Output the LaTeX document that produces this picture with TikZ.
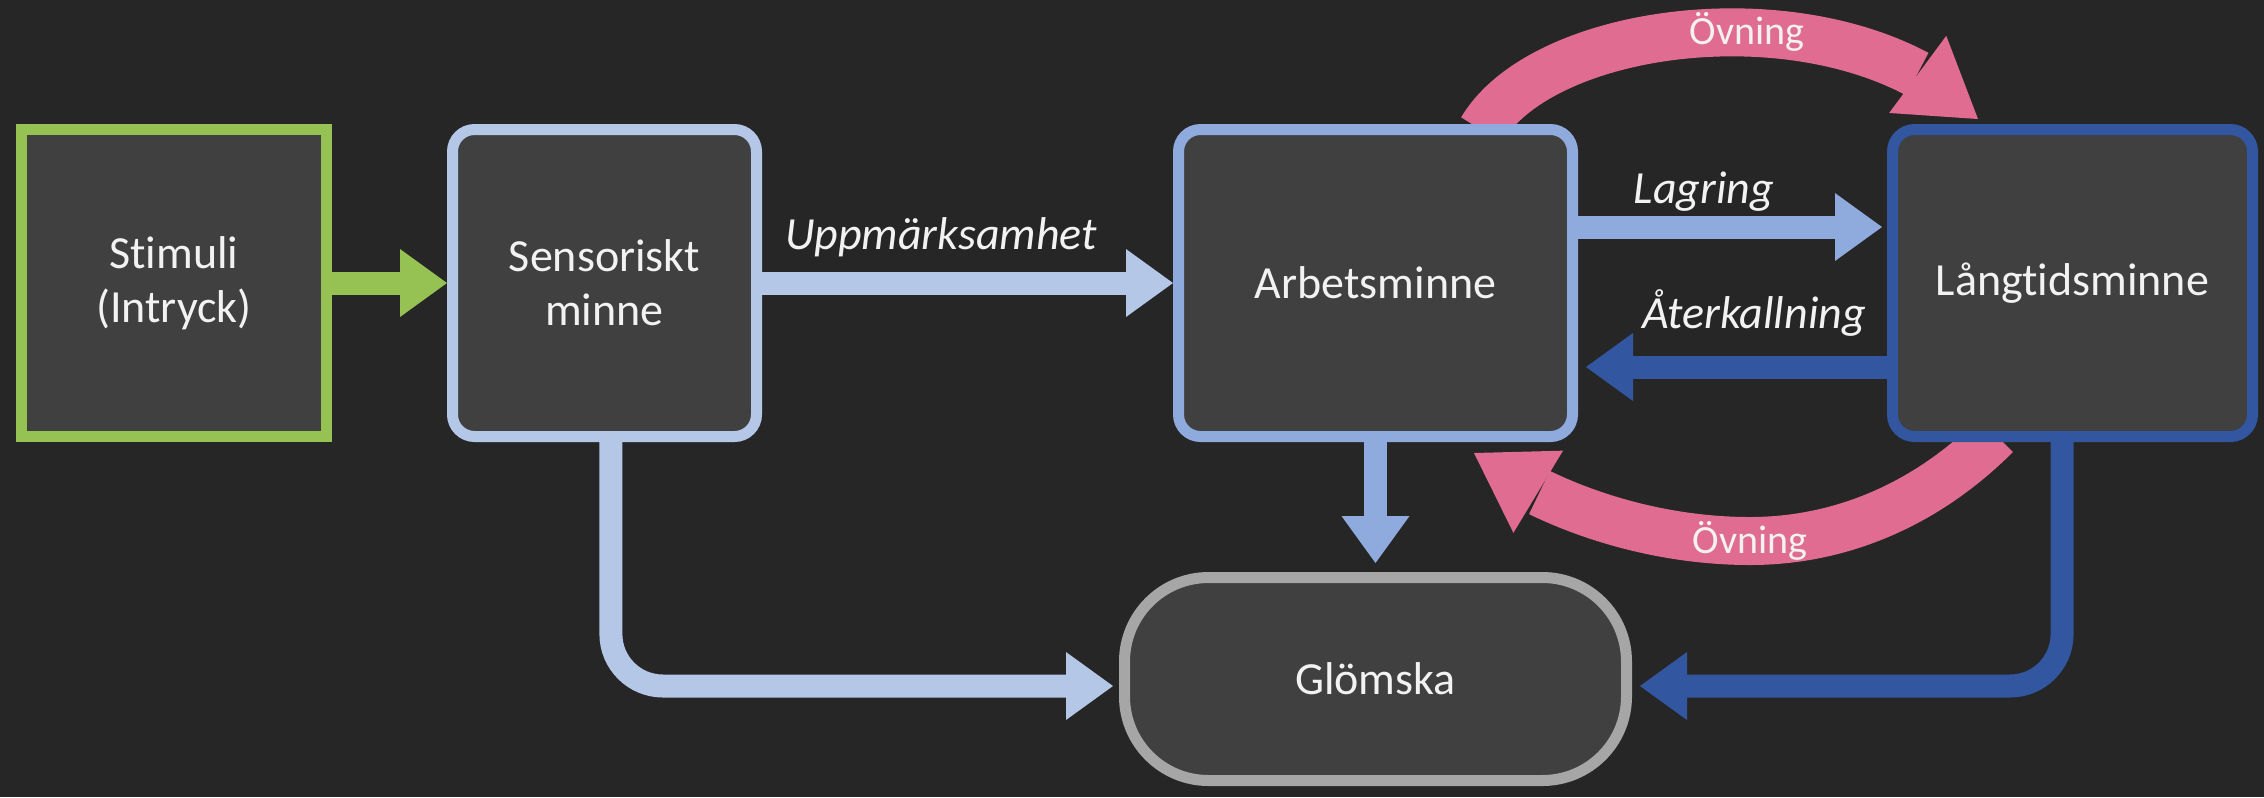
\documentclass[tikz,border=0pt]{standalone}
\usepackage{fontspec}
\setmainfont{Carlito}[RawFeature={-liga}]
\usetikzlibrary{arrows.meta,bending,calc}
\definecolor{bgc}{RGB}{38,38,38}
\definecolor{boxc}{RGB}{64,64,64}
\definecolor{grn}{RGB}{150,194,84}
\definecolor{lblue}{RGB}{180,199,231}
\definecolor{mblue}{RGB}{143,170,220}
\definecolor{dblue}{RGB}{50,86,160}
\definecolor{pnk}{RGB}{224,108,146}
\definecolor{gry}{RGB}{166,166,166}
\definecolor{txt}{RGB}{242,242,242}
\pgfdeclarelayer{backdrop}
\pgfdeclarelayer{bg}
\pgfsetlayers{backdrop,bg,main}
\begin{document}
\begin{tikzpicture}[x=0.25pt,y=-0.25pt,
  box/.style={draw, line width=2.75pt, fill=boxc, inner sep=0pt, text=txt, align=center,
    font=\fontsize{11.5}{13.5}\selectfont, minimum height=76.75pt, rounded corners=5.5pt},
  flow/.style={line width=5.75pt, -{Triangle[width=17pt,length=11.75pt,line width=0pt]}},
  lbl/.style={text=txt, font=\fontsize{11.5}{14}\selectfont\itshape},
  ovn/.style={line width=12pt, -{Triangle[width=24pt,length=18.75pt,line width=0pt,flex]}},
  olbl/.style={text=txt, font=\fontsize{10}{12}\selectfont}
]
\path[use as bounding box] (0,0) rectangle (2264,797);
\begin{pgfonlayer}{backdrop}
\fill[bgc] (0,0) rectangle (2264,797);
\end{pgfonlayer}

\node[box, draw=grn, rounded corners=0pt, minimum width=76.25pt] (stim) at (174,283) {Stimuli\\(Intryck)};
\node[box, draw=lblue, minimum width=76pt] (sens) at (604.5,283) {Sensoriskt\\minne};
\node[box, draw=mblue, minimum width=98.5pt] (arb) at (1375.5,283) {Arbetsminne};
\node[box, draw=dblue, minimum width=90pt] (lang) at (2072.5,283) {Långtidsminne};
\node[box, draw=gry, minimum width=125.5pt, minimum height=50.75pt, rounded corners=21pt] (glom) at (1375.5,679) {Glömska};

\draw[flow, grn] (stim) -- (sens);
\draw[flow, lblue] (sens) -- (arb);
\draw[flow, mblue, shorten >=1.25pt] ([yshift=14pt]arb.east) -- ([yshift=14pt]lang.west);
\draw[flow, dblue, shorten >=2pt] ([yshift=-21pt]lang.west) -- ([yshift=-21pt]arb.east);
\draw[flow, mblue, shorten >=2.25pt] (arb) -- (glom);
\draw[flow, lblue, rounded corners=13pt, shorten >=1.5pt] ([xshift=1.6pt]sens.south) |- ([yshift=-1.75pt]glom.west);
\draw[flow, dblue, rounded corners=13pt, shorten >=2pt] ([xshift=-2.6pt]lang.south) |- ([yshift=-1.75pt]glom.east);

\begin{pgfonlayer}{bg}
\draw[ovn, pnk] ($(arb.north)+(106,6)$) .. controls +(66,-112) and +(-128,-132) .. ($(lang.north west)+(91,-5)$);
\draw[ovn, pnk] ($(lang.south)+(-76.5,-7)$) .. controls +(-70,70) and +(90,0) .. (1750,541)
   node[olbl] (o2) {Övning}
   .. controls +(-100,0) and +(72,54) .. ($(arb.south east)+(-104,11)$);
\end{pgfonlayer}

\node[lbl] (lu) at (941,237) {Uppmärksamhet};
\node[lbl] (ll) at (1704,192) {Lagring};
\node[lbl] (la) at (1754,313) {Återkallning};
\node[olbl] (o1) at (1747,32) {Övning};
\end{tikzpicture}
\end{document}
